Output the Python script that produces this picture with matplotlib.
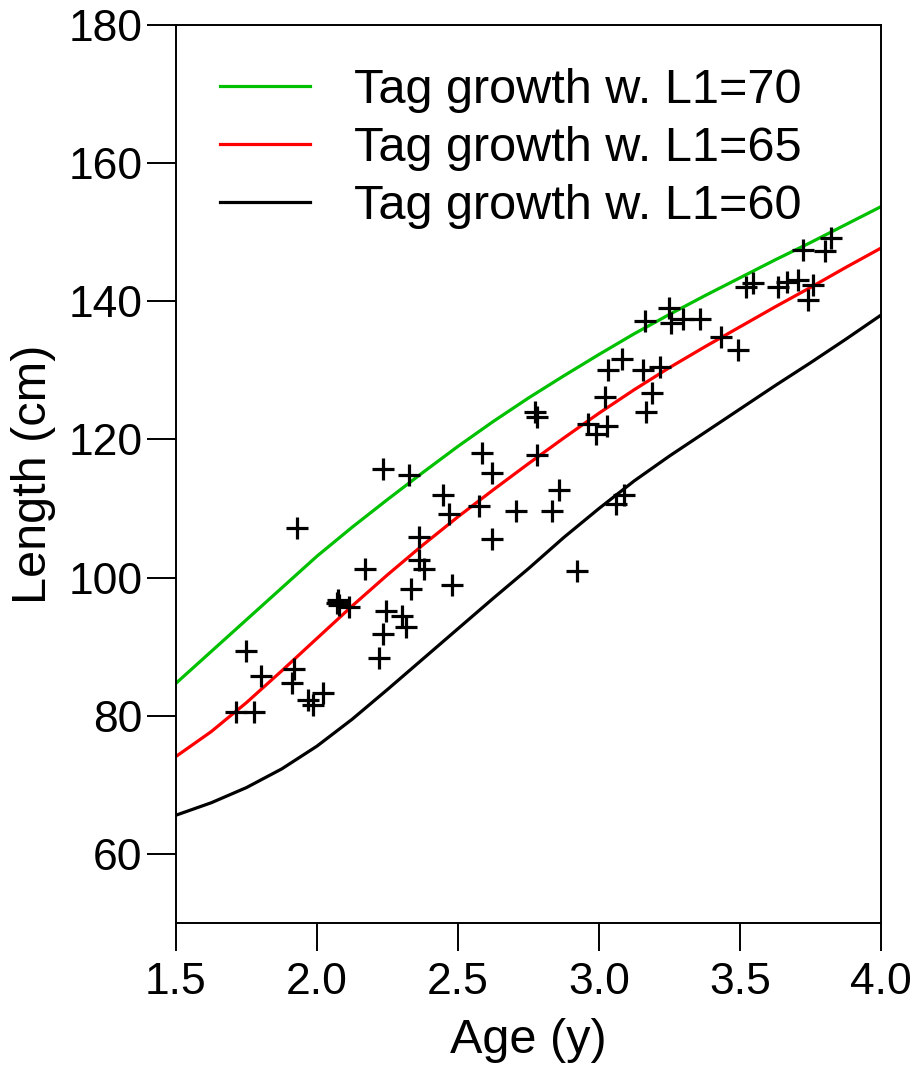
import matplotlib
matplotlib.use("Agg")
import matplotlib.pyplot as plt

plt.rcParams['font.family'] = ['Liberation Sans', 'DejaVu Sans']

# growth curves
curve_age = [1.5, 1.625, 1.75, 1.875, 2.0, 2.125, 2.25, 2.375, 2.5, 2.625, 2.75,
             2.875, 3.0, 3.125, 3.25, 3.375, 3.5, 3.625, 3.75, 3.875, 4.0]
len_l1_70 = [84.7, 89.3, 93.9, 98.5, 103.1, 107.3, 111.3, 115.2, 119.0, 122.6, 126.0,
             129.2, 132.3, 135.3, 138.1, 140.8, 143.4, 146.0, 148.5, 151.1, 153.7]
len_l1_65 = [74.1, 77.7, 81.9, 86.5, 91.2, 95.9, 100.4, 104.7, 108.8, 112.7, 116.5,
             120.2, 123.8, 127.2, 130.4, 133.4, 136.3, 139.2, 142.0, 144.9, 147.7]
len_l1_60 = [65.6, 67.4, 69.6, 72.3, 75.6, 79.5, 83.8, 88.2, 92.6, 97.0, 101.3,
             105.8, 110.0, 114.0, 117.6, 121.0, 124.4, 127.8, 131.1, 134.5, 138.0]

# tagged fish (age, length)
obs_age = [1.713, 1.775, 1.748, 1.803, 1.930, 1.918, 1.912, 1.967, 2.020, 1.985,
           2.076, 2.079, 2.070, 2.115, 2.169, 2.221, 2.233, 2.245, 2.301, 2.316, 2.333,
           2.233, 2.327, 2.361, 2.363, 2.380,
           2.448, 2.468, 2.480, 2.574, 2.584, 2.620, 2.620, 2.707, 2.773, 2.780, 2.781,
           2.832, 2.858, 2.921,
           2.962, 2.990, 3.027, 3.020, 3.033, 3.062, 3.090, 3.082, 3.157, 3.163, 3.167,
           3.188, 3.215, 3.250, 3.256, 3.298, 3.357, 3.434, 3.493,
           3.522, 3.546, 3.635, 3.668, 3.706, 3.758, 3.741, 3.724, 3.800, 3.824]
obs_len = [80.5, 80.6, 89.4, 85.7, 107.2, 86.8, 84.8, 82.3, 83.3, 81.6,
           96.8, 96.0, 96.3, 95.7, 101.3, 88.3, 91.9, 95.1, 94.4, 92.9, 98.3,
           115.7, 114.9, 105.9, 102.5, 101.3,
           112.0, 109.2, 98.9, 110.4, 118.0, 115.1, 105.6, 109.6, 124.0, 123.2, 117.8,
           109.6, 112.7, 100.9,
           122.3, 120.8, 122.0, 126.2, 130.1, 110.6, 112.0, 131.6, 130.1, 137.1, 124.0,
           126.7, 130.5, 139.0, 136.8, 137.4, 137.5, 134.8, 132.9,
           142.0, 142.7, 142.0, 142.8, 143.1, 142.3, 140.2, 147.4, 147.3, 149.1]

fig = plt.figure(figsize=(9.18, 10.67), dpi=100)
ax = fig.add_axes([0.1917, 0.135, 0.768, 0.8416])

ax.plot(curve_age, len_l1_70, color='#00c000', lw=2.3, label='Tag growth w. L1=70')
ax.plot(curve_age, len_l1_65, color='#ff0000', lw=2.3, label='Tag growth w. L1=65')
ax.plot(curve_age, len_l1_60, color='black', lw=2.3, label='Tag growth w. L1=60')
ax.plot(obs_age, obs_len, linestyle='none', marker='+', markersize=16,
        markeredgewidth=2.3, color='black')

ax.set_xlim(1.5, 4.0)
ax.set_ylim(50, 180)
ax.set_xticks([1.5, 2.0, 2.5, 3.0, 3.5, 4.0])
ax.set_xticklabels(['1.5', '2.0', '2.5', '3.0', '3.5', '4.0'])
ax.set_yticks([60, 80, 100, 120, 140, 160, 180])

for s in ax.spines.values():
    s.set_linewidth(1.4)
ax.tick_params(axis='x', direction='out', length=20, width=1.4, pad=8, labelsize=32)
ax.tick_params(axis='y', direction='out', length=21, width=1.4, pad=3, labelsize=32)

ax.set_xlabel('Age (y)', fontsize=35, labelpad=11)
ax.set_ylabel('Length (cm)', fontsize=35, labelpad=9)

ax.legend(loc='upper left', frameon=False, fontsize=35, handlelength=1.85,
          handletextpad=0.9, labelspacing=0.27, borderaxespad=0.3,
          bbox_to_anchor=(0.0145, 0.99))

fig.savefig('out.png', dpi=100)
